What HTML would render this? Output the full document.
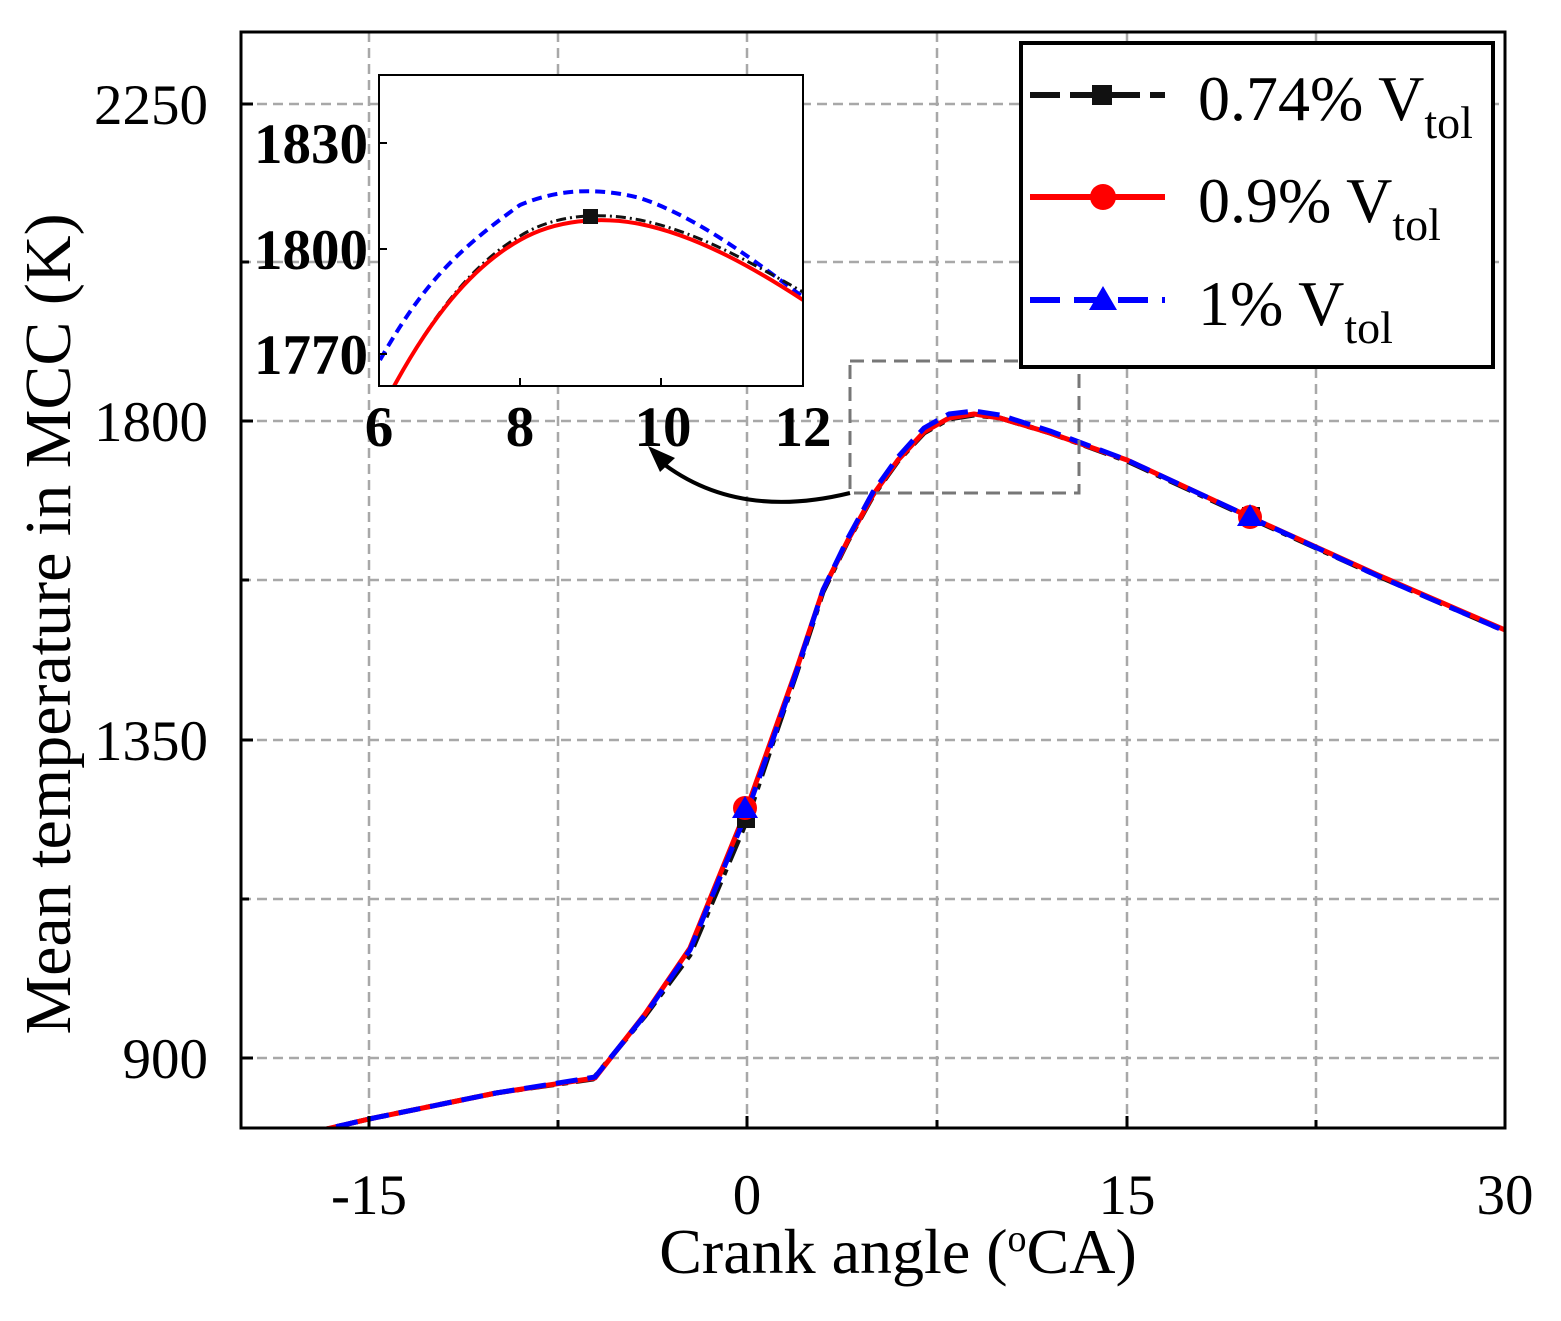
<!DOCTYPE html>
<html><head><meta charset="utf-8"><style>
html,body{margin:0;padding:0;background:#fff}
svg text{font-family:"Liberation Serif",serif}
</style></head><body>
<svg width="1561" height="1316" viewBox="0 0 1561 1316" xmlns="http://www.w3.org/2000/svg">
<rect width="1561" height="1316" fill="#fff"/>
<defs><clipPath id="mc"><rect x="241" y="32" width="1264" height="1096"/></clipPath>
<clipPath id="ic"><rect x="379" y="75" width="424" height="311"/></clipPath></defs>
<g stroke="#a8a8a8" stroke-width="2.5" stroke-dasharray="10,6">
<line x1="369" y1="32" x2="369" y2="1128"/><line x1="558" y1="32" x2="558" y2="1128"/>
<line x1="747" y1="32" x2="747" y2="1128"/><line x1="937" y1="32" x2="937" y2="1128"/>
<line x1="1127" y1="32" x2="1127" y2="1128"/><line x1="1316" y1="32" x2="1316" y2="1128"/>
<line x1="241" y1="104" x2="1505" y2="104"/><line x1="241" y1="262" x2="1505" y2="262"/>
<line x1="241" y1="421" x2="1505" y2="421"/><line x1="241" y1="580" x2="1505" y2="580"/>
<line x1="241" y1="740" x2="1505" y2="740"/><line x1="241" y1="899" x2="1505" y2="899"/>
<line x1="241" y1="1058" x2="1505" y2="1058"/>
</g>
<g clip-path="url(#mc)" fill="none" stroke-width="5" stroke-linejoin="round">
<path d="M305,1134 L369,1119 L496,1093 L593,1079 L645,1016 L690,955 L747,820 L772,745 L797,672 L823,592 L848,541 L873,496 L898,461 L924,433 L949,419 L974,415 L1000,418 L1050,433 L1127,461 L1252,519 L1378,576 L1505,631" stroke="#111" stroke-dasharray="24,8,6,8"/>
<path d="M305,1134 L369,1119 L496,1093 L595,1078 L645,1014 L690,948 L747,808 L772,738 L797,668 L823,590 L848,540 L873,495 L898,460 L924,432 L949,418 L974,414 L1000,418 L1050,433 L1127,460 L1252,518 L1378,575 L1505,630" stroke="#f00"/>
<path d="M305,1134 L369,1119 L496,1093 L595,1077 L645,1015 L690,950 L747,812 L772,742 L797,670 L823,590 L848,538 L873,492 L898,457 L924,428 L949,414 L974,411 L1000,415 L1050,431 L1127,460 L1252,518 L1378,576 L1505,631" stroke="#00f" stroke-dasharray="22,10"/>
</g>
<rect x="737" y="810" width="18" height="18" fill="#111"/>
<circle cx="745" cy="808" r="12" fill="#f00"/>
<polygon points="745,796 758,818 732,818" fill="#00f"/>
<rect x="1242" y="507" width="18" height="18" fill="#111"/>
<circle cx="1250" cy="517" r="12" fill="#f00"/>
<polygon points="1250,504 1263,526 1237,526" fill="#00f"/>
<rect x="241" y="32" width="1264" height="1096" fill="none" stroke="#000" stroke-width="3"/>
<g stroke="#000" stroke-width="3">
<line x1="369" y1="1128" x2="369" y2="1116"/><line x1="558" y1="1128" x2="558" y2="1120"/><line x1="747" y1="1128" x2="747" y2="1116"/><line x1="937" y1="1128" x2="937" y2="1120"/><line x1="1127" y1="1128" x2="1127" y2="1116"/><line x1="1316" y1="1128" x2="1316" y2="1120"/>
<line x1="241" y1="104" x2="253" y2="104"/><line x1="241" y1="262" x2="249" y2="262"/><line x1="241" y1="421" x2="253" y2="421"/><line x1="241" y1="580" x2="249" y2="580"/><line x1="241" y1="740" x2="253" y2="740"/><line x1="241" y1="899" x2="249" y2="899"/><line x1="241" y1="1058" x2="253" y2="1058"/>
</g>
<g font-size="57" text-anchor="middle">
<text x="369" y="1214">-15</text><text x="747" y="1214">0</text><text x="1127" y="1214">15</text><text x="1505" y="1214">30</text>
</g>
<g font-size="57" text-anchor="end">
<text x="208" y="124">2250</text><text x="208" y="441">1800</text><text x="208" y="760">1350</text><text x="208" y="1078">900</text>
</g>
<text x="898" y="1273" font-size="64" text-anchor="middle">Crank angle (<tspan font-size="38" dy="-22">o</tspan><tspan dy="22">CA)</tspan></text>
<text transform="translate(70,624) rotate(-90)" font-size="66" text-anchor="middle">Mean temperature in MCC (K)</text>
<rect x="850" y="361" width="229" height="132" fill="none" stroke="#777" stroke-width="3" stroke-dasharray="14,8"/>
<path d="M850,493 Q740,520 665,465" fill="none" stroke="#000" stroke-width="4"/>
<polygon points="648,446 675,458 660,472" fill="#000"/>
<rect x="379" y="75" width="424" height="311" fill="#fff"/>
<g clip-path="url(#ic)" fill="none" stroke-width="4">
<path d="M380,360 C420,290 450,255 520,205 C560,188 600,188 640,198 C700,218 760,265 803,297" stroke="#00f" stroke-dasharray="10,6"/>
<path d="M393,388 C430,320 470,265 520,236 C555,214 600,212 640,220 C700,232 760,268 803,292" stroke="#111" stroke-dasharray="10,4,2,4" stroke-width="3"/>
<path d="M393,388 C430,320 470,268 520,240 C555,220 600,216 640,224 C700,236 760,272 803,300" stroke="#f00"/>
</g>
<rect x="583" y="209" width="15" height="15" fill="#111"/>
<rect x="379" y="75" width="424" height="311" fill="none" stroke="#000" stroke-width="2"/>
<g stroke="#000" stroke-width="2">
<line x1="379" y1="143" x2="387" y2="143"/><line x1="379" y1="249" x2="387" y2="249"/><line x1="379" y1="354" x2="387" y2="354"/>
<line x1="520" y1="386" x2="520" y2="378"/><line x1="661" y1="386" x2="661" y2="378"/>
</g>
<g font-size="57" font-weight="bold" text-anchor="end">
<text x="368" y="163">1830</text><text x="368" y="269">1800</text><text x="368" y="374">1770</text>
</g>
<g font-size="57" font-weight="bold" text-anchor="middle">
<text x="379" y="446">6</text><text x="520" y="446">8</text><text x="663" y="446">10</text><text x="803" y="446">12</text>
</g>
<rect x="1021" y="43" width="472" height="324" fill="#fff" stroke="#000" stroke-width="4"/>
<line x1="1030" y1="95" x2="1165" y2="95" stroke="#111" stroke-width="6" stroke-dasharray="30,10"/>
<rect x="1092" y="85" width="20" height="20" fill="#111"/>
<line x1="1030" y1="197" x2="1165" y2="197" stroke="#f00" stroke-width="6"/>
<circle cx="1103" cy="197" r="13" fill="#f00"/>
<line x1="1030" y1="300" x2="1165" y2="300" stroke="#00f" stroke-width="6" stroke-dasharray="30,14"/>
<polygon points="1103,286 1117,310 1089,310" fill="#00f"/>
<g font-size="64">
<text x="1198" y="120">0.74% V<tspan font-size="46" dy="18">tol</tspan></text>
<text x="1198" y="222">0.9% V<tspan font-size="46" dy="18">tol</tspan></text>
<text x="1198" y="325">1% V<tspan font-size="46" dy="18">tol</tspan></text>
</g>
</svg>
</body></html>
